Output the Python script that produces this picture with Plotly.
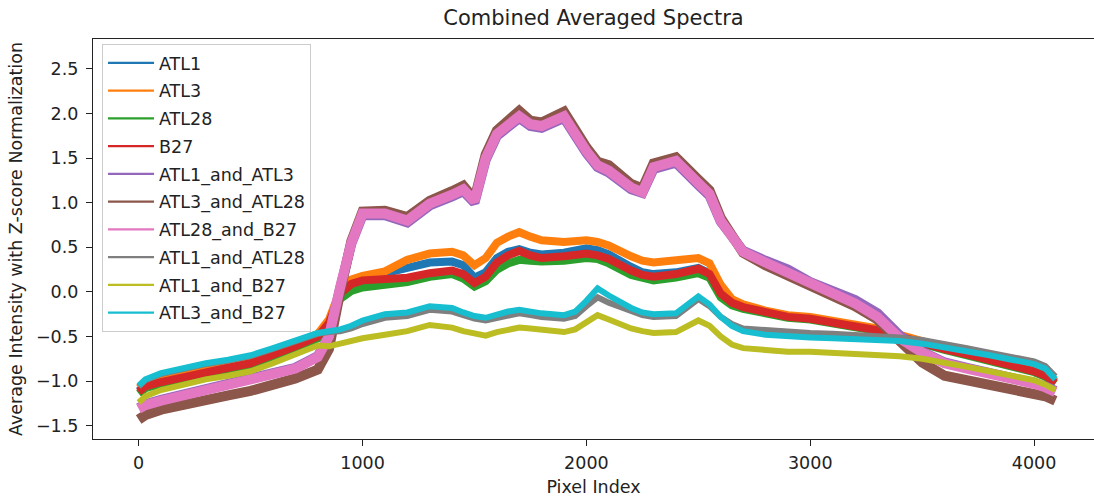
import plotly.graph_objects as go

# ---------------- data ----------------
PIXEL_INDEX = [0, 30, 100, 200, 300, 400, 500, 600, 700, 800,
               850, 900, 950, 1000, 1100, 1200, 1300, 1400, 1450, 1500,
               1550, 1600, 1650, 1700, 1750, 1800, 1900, 1950, 2000, 2050,
               2100, 2200, 2250, 2300, 2400, 2500, 2550, 2600, 2650, 2700,
               2800, 2900, 3000, 3100, 3200, 3300, 3400, 3500, 3600, 3700,
               3800, 3900, 4000, 4050, 4095]

ATL1 = [-1.11, -1.05, -1.00, -0.94, -0.88, -0.84, -0.79, -0.70, -0.60, -0.49,
        -0.33, -0.01, 0.10, 0.15, 0.20, 0.27, 0.33, 0.34, 0.30, 0.16,
        0.22, 0.38, 0.45, 0.48, 0.44, 0.42, 0.44, 0.46, 0.49, 0.47,
        0.42, 0.28, 0.22, 0.20, 0.22, 0.27, 0.21, -0.01, -0.11, -0.16,
        -0.22, -0.27, -0.29, -0.33, -0.37, -0.42, -0.49, -0.57, -0.63, -0.69,
        -0.75, -0.81, -0.88, -0.93, -1.01]

ATL3 = [-1.08, -1.02, -0.96, -0.90, -0.85, -0.81, -0.76, -0.67, -0.57, -0.47,
        -0.31, 0.02, 0.14, 0.18, 0.23, 0.36, 0.43, 0.45, 0.41, 0.30,
        0.38, 0.55, 0.62, 0.67, 0.62, 0.58, 0.56, 0.57, 0.58, 0.56,
        0.52, 0.40, 0.35, 0.33, 0.35, 0.38, 0.32, 0.08, -0.08, -0.14,
        -0.21, -0.26, -0.28, -0.32, -0.36, -0.41, -0.48, -0.56, -0.62, -0.68,
        -0.74, -0.80, -0.87, -0.92, -1.00]

ATL28 = [-1.14, -1.08, -1.03, -0.97, -0.91, -0.87, -0.82, -0.73, -0.63, -0.52,
         -0.38, -0.08, 0.01, 0.05, 0.07, 0.11, 0.17, 0.20, 0.15, 0.06,
         0.12, 0.25, 0.32, 0.36, 0.35, 0.34, 0.35, 0.37, 0.38, 0.37,
         0.32, 0.19, 0.15, 0.13, 0.16, 0.21, 0.16, -0.06, -0.15, -0.19,
         -0.24, -0.29, -0.31, -0.35, -0.39, -0.44, -0.51, -0.59, -0.65, -0.71,
         -0.77, -0.83, -0.90, -0.95, -1.03]

B27 = [-1.12, -1.06, -1.01, -0.95, -0.89, -0.85, -0.80, -0.71, -0.61, -0.50,
       -0.35, -0.02, 0.09, 0.13, 0.14, 0.16, 0.21, 0.24, 0.20, 0.10,
       0.17, 0.33, 0.41, 0.46, 0.41, 0.38, 0.40, 0.42, 0.43, 0.41,
       0.37, 0.24, 0.19, 0.17, 0.20, 0.26, 0.20, -0.02, -0.12, -0.17,
       -0.23, -0.28, -0.30, -0.34, -0.38, -0.43, -0.50, -0.58, -0.64, -0.70,
       -0.76, -0.82, -0.89, -0.94, -1.02]

ATL1_and_ATL3 = [-1.30, -1.26, -1.21, -1.15, -1.09, -1.04, -0.99, -0.93, -0.85, -0.72,
                 -0.50, 0.04, 0.54, 0.86, 0.86, 0.78, 0.97, 1.07, 1.13, 1.00,
                 1.48, 1.75, 1.86, 1.95, 1.86, 1.84, 1.95, 1.73, 1.56, 1.40,
                 1.34, 1.15, 1.11, 1.38, 1.45, 1.20, 1.08, 0.79, 0.60, 0.46,
                 0.35, 0.25, 0.11, 0.02, -0.09, -0.24, -0.49, -0.67, -0.79, -0.85,
                 -0.90, -0.95, -1.02, -1.06, -1.11]

ATL3_and_ATL28 = [-1.43, -1.38, -1.32, -1.26, -1.21, -1.16, -1.11, -1.05, -0.97, -0.87,
                  -0.64, 0.00, 0.57, 0.90, 0.91, 0.84, 1.02, 1.13, 1.19, 1.04,
                  1.54, 1.81, 1.93, 2.03, 1.92, 1.90, 2.02, 1.80, 1.62, 1.46,
                  1.42, 1.21, 1.16, 1.44, 1.51, 1.26, 1.14, 0.83, 0.61, 0.44,
                  0.30, 0.19, 0.05, -0.05, -0.16, -0.31, -0.56, -0.79, -0.94, -0.99,
                  -1.04, -1.08, -1.13, -1.17, -1.22]

ATL28_and_B27 = [-1.31, -1.27, -1.22, -1.16, -1.10, -1.05, -1.00, -0.94, -0.86, -0.73,
                 -0.50, 0.05, 0.55, 0.88, 0.88, 0.80, 0.99, 1.09, 1.15, 1.02,
                 1.50, 1.77, 1.88, 1.97, 1.88, 1.86, 1.97, 1.75, 1.58, 1.42,
                 1.36, 1.17, 1.12, 1.40, 1.47, 1.22, 1.10, 0.80, 0.60, 0.45,
                 0.33, 0.22, 0.08, -0.02, -0.13, -0.28, -0.52, -0.68, -0.80, -0.86,
                 -0.91, -0.96, -1.03, -1.07, -1.12]

ATL1_and_ATL28 = [-1.06, -0.99, -0.92, -0.86, -0.81, -0.77, -0.72, -0.64, -0.55, -0.47,
                  -0.45, -0.44, -0.41, -0.36, -0.29, -0.27, -0.20, -0.22, -0.26, -0.30,
                  -0.32, -0.29, -0.26, -0.24, -0.26, -0.28, -0.30, -0.27, -0.16, -0.06,
                  -0.12, -0.22, -0.26, -0.28, -0.27, -0.08, -0.16, -0.28, -0.36, -0.41,
                  -0.43, -0.45, -0.46, -0.47, -0.48, -0.49, -0.51, -0.54, -0.58, -0.63,
                  -0.68, -0.73, -0.78, -0.83, -0.95]

ATL1_and_B27 = [-1.24, -1.17, -1.10, -1.04, -0.98, -0.94, -0.89, -0.80, -0.70, -0.60,
                -0.61, -0.58, -0.55, -0.52, -0.48, -0.44, -0.37, -0.40, -0.44, -0.47,
                -0.49, -0.45, -0.42, -0.40, -0.41, -0.42, -0.45, -0.42, -0.34, -0.26,
                -0.31, -0.41, -0.44, -0.46, -0.45, -0.32, -0.38, -0.50, -0.59, -0.63,
                -0.65, -0.67, -0.67, -0.68, -0.70, -0.71, -0.72, -0.75, -0.79, -0.84,
                -0.89, -0.94, -0.99, -1.04, -1.10]

ATL3_and_B27 = [-1.05, -0.98, -0.91, -0.85, -0.80, -0.76, -0.71, -0.63, -0.54, -0.46,
                -0.44, -0.42, -0.38, -0.32, -0.25, -0.23, -0.16, -0.18, -0.23, -0.27,
                -0.29, -0.25, -0.22, -0.20, -0.22, -0.24, -0.26, -0.22, -0.10, 0.04,
                -0.04, -0.18, -0.23, -0.25, -0.24, -0.05, -0.14, -0.28, -0.38, -0.44,
                -0.48, -0.50, -0.51, -0.52, -0.53, -0.54, -0.55, -0.58, -0.62, -0.66,
                -0.71, -0.76, -0.81, -0.86, -0.98]

SERIES_NAMES = ["ATL1", "ATL3", "ATL28", "B27", "ATL1_and_ATL3", "ATL3_and_ATL28",
                "ATL28_and_B27", "ATL1_and_ATL28", "ATL1_and_B27", "ATL3_and_B27"]
SERIES_VALUES = [ATL1, ATL3, ATL28, B27, ATL1_and_ATL3, ATL3_and_ATL28,
                 ATL28_and_B27, ATL1_and_ATL28, ATL1_and_B27, ATL3_and_B27]

X_TICKS = [0, 1000, 2000, 3000, 4000]
Y_TICKS = [-1.5, -1.0, -0.5, 0.0, 0.5, 1.0, 1.5, 2.0, 2.5]

# ---------------- styling ----------------
COLORS = ["#1f77b4", "#ff7f0e", "#2ca02c", "#d62728", "#9467bd", "#8c564b",
          "#e377c2", "#7f7f7f", "#bcbd22", "#17becf"]
WIDTHS = [8, 8, 8, 8, 10, 10, 10, 6, 6, 6]
FONT = "DejaVu Sans"
TEXT = "#222222"

fig = go.Figure()
for name, vals, col, w in zip(SERIES_NAMES, SERIES_VALUES, COLORS, WIDTHS):
    fig.add_trace(go.Scatter(x=PIXEL_INDEX, y=vals, mode="lines", name=name,
                             legendgroup=name, showlegend=False,
                             line=dict(color=col, width=w)))
# thin legend handles
for name, col in zip(SERIES_NAMES, COLORS):
    fig.add_trace(go.Scatter(x=[None], y=[None], mode="lines", name=name,
                             legendgroup=name, showlegend=True,
                             line=dict(color=col, width=2.2)))

fig.update_layout(
    width=1094, height=498,
    margin=dict(l=93, r=0, t=39, b=59, pad=0),
    paper_bgcolor="white", plot_bgcolor="white",
    font=dict(family=FONT, size=17.5, color=TEXT),
    title=dict(text="Combined Averaged Spectra", x=0.5, xref="paper", xanchor="center",
               y=1 - 18 / 498, yref="container", yanchor="middle",
               font=dict(family=FONT, size=21, color=TEXT)),
    showlegend=True,
    legend=dict(x=0.009, y=0.9875, xanchor="left", yanchor="top",
                bgcolor="rgba(255,255,255,0.8)", bordercolor="#cccccc", borderwidth=1,
                font=dict(family=FONT, size=17.5, color=TEXT),
                traceorder="grouped", tracegroupgap=2, itemwidth=46),
)
fig.update_xaxes(range=[-204, 4267.5], tickvals=X_TICKS, ticks="outside", ticklen=6,
                 tickwidth=1.2, tickcolor=TEXT, showline=True, linecolor=TEXT,
                 linewidth=1.2, mirror=True, showgrid=False, zeroline=False,
                 ticklabelstandoff=2,
                 title=dict(text="Pixel Index", standoff=8,
                            font=dict(family=FONT, size=17.5, color=TEXT)))
fig.update_yaxes(range=[-1.649, 2.836], tickvals=Y_TICKS, tickformat=".1f",
                 ticks="outside", ticklen=6, tickwidth=1.2, tickcolor=TEXT,
                 showline=True, linecolor=TEXT, linewidth=1.2, mirror=False,
                 showgrid=False, zeroline=False, ticklabelstandoff=4,
                 title=dict(text="Average Intensity with Z-score Normalization", standoff=8,
                            font=dict(family=FONT, size=17.5, color=TEXT)))

fig.write_html("out.html")
